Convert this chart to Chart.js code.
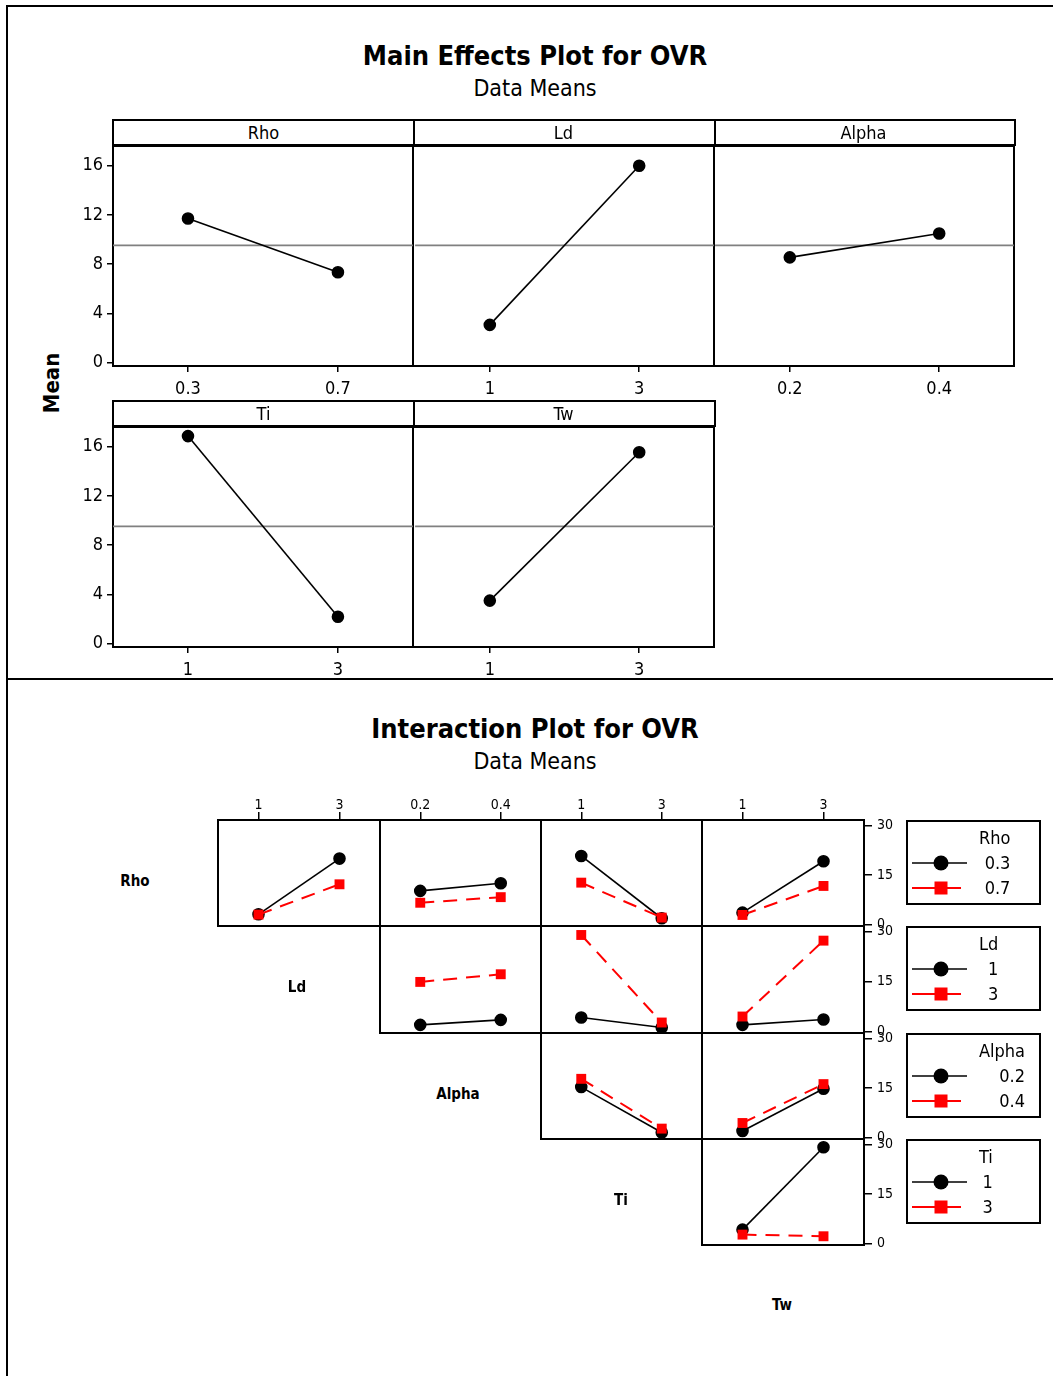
<!DOCTYPE html>
<html>
<head>
<meta charset="utf-8">
<title>Main Effects and Interaction Plots for OVR</title>
<script src="https://cdn.jsdelivr.net/npm/chart.js@4.4.1/dist/chart.umd.min.js"></script>
<style>
  html, body { margin: 0; padding: 0; background: #fff; }
  body { position: relative; width: 1053px; height: 1376px; overflow: hidden;
         font-family: "DejaVu Sans Condensed", "DejaVu Sans", sans-serif; color: #000; }
  canvas { position: absolute; }
  .txt { position: absolute; white-space: nowrap; }
  .box { position: absolute; border: 2px solid #000; box-sizing: border-box; }
  .legend-col { position: absolute; text-align: right; font-size: 18px; }
  .legend-col div { height: 25px; line-height: 25px; }
</style>
</head>
<body>
<script>
// ---- factor levels ----
const factorNames = ['Rho', 'Ld', 'Alpha', 'Ti', 'Tw'];
const rhoLevels = ['0.3', '0.7'];
const ldLevels = ['1', '3'];
const alphaLevels = ['0.2', '0.4'];
const tiLevels = ['1', '3'];
const twLevels = ['1', '3'];

// ---- main effect means of OVR ----
const rhoMeans = [11.72, 7.35];
const ldMeans = [3.07, 16.0];
const alphaMeans = [8.56, 10.5];
const tiMeans = [16.87, 2.19];
const twMeans = [3.5, 15.56];
const grandMean = 9.53;

// ---- tick values ----
const meanTicks = [0, 4, 8, 12, 16];
const interactionTicks = [0, 15, 30];

// ---- interaction means: [first level of row factor, second level], each over the column factor levels ----
const rhoByLd = [[3.1, 20.0], [3.0, 12.2]];
const rhoByAlpha = [[10.2, 12.5], [6.6, 8.3]];
const rhoByTi = [[20.8, 1.9], [12.7, 2.1]];
const rhoByTw = [[3.6, 19.2], [2.9, 11.7]];
const ldByAlpha = [[2.0, 3.5], [14.9, 17.2]];
const ldByTi = [[4.2, 1.2], [29.0, 2.7]];
const ldByTw = [[2.0, 3.6], [4.5, 27.3]];
const alphaByTi = [[15.3, 1.5], [17.8, 2.7]];
const alphaByTw = [[2.0, 14.8], [4.4, 16.2]];
const tiByTw = [[4.2, 29.2], [2.7, 2.2]];

const levelsOf = [rhoLevels, ldLevels, alphaLevels, tiLevels, twLevels];

// ---------------------------------------------------------------
const FONT = '"DejaVu Sans Condensed", "DejaVu Sans", sans-serif';
Chart.defaults.font.family = FONT;
Chart.defaults.color = '#000';

// box around the plotting area (left edge optional where a neighbour already draws it)
const framePlugin = {
  id: 'frame',
  beforeDatasetsDraw(chart, args, opts) {
    const a = chart.chartArea, ctx = chart.ctx;
    const l = Math.round(a.left), r = Math.round(a.right);
    const t = Math.round(a.top), b = Math.round(a.bottom);
    ctx.save();
    ctx.strokeStyle = '#000';
    ctx.lineWidth = opts.width || 2;
    ctx.lineCap = 'square';
    ctx.beginPath();
    ctx.moveTo(l, t); ctx.lineTo(r, t); ctx.lineTo(r, b); ctx.lineTo(l, b);
    if (!opts.skipLeft) ctx.closePath();
    ctx.stroke();
    ctx.restore();
  }
};

// horizontal reference line at the overall mean
const refLinePlugin = {
  id: 'refLine',
  beforeDatasetsDraw(chart, args, opts) {
    if (opts.value == null) return;
    const a = chart.chartArea, ctx = chart.ctx;
    const y = chart.scales.y.getPixelForValue(opts.value);
    ctx.save();
    ctx.strokeStyle = '#808080';
    ctx.lineWidth = 1.6;
    ctx.beginPath();
    ctx.moveTo(a.left, y);
    ctx.lineTo(a.right, y);
    ctx.stroke();
    ctx.restore();
  }
};

function fixedSize(prop, size) {
  return function (s) {
    s[prop] = size;
    s.paddingTop = s.paddingBottom = s.paddingLeft = s.paddingRight = 0;
  };
}

function addText(str, x, y, css, align) {
  const d = document.createElement('div');
  d.className = 'txt';
  d.textContent = str;
  d.style.cssText += css;
  d.style.left = x + 'px';
  d.style.top = (y - 20) + 'px';
  d.style.height = '40px';
  d.style.lineHeight = '40px';
  d.style.transform = align === 'left' ? 'none' : 'translateX(-50%)';
  document.body.appendChild(d);
  return d;
}

function addBox(l, t, w, h) {
  const d = document.createElement('div');
  d.className = 'box';
  d.style.left = l + 'px'; d.style.top = t + 'px';
  d.style.width = w + 'px'; d.style.height = h + 'px';
  document.body.appendChild(d);
  return d;
}

function makeCanvas(l, t, w, h) {
  const c = document.createElement('canvas');
  c.width = w; c.height = h;
  c.style.left = l + 'px'; c.style.top = t + 'px';
  c.style.width = w + 'px'; c.style.height = h + 'px';
  document.body.appendChild(c);
  return c;
}

// ---- page frame ----
const frame = document.createElement('div');
frame.style.cssText = 'position:absolute;left:6px;top:5px;width:1060px;height:1400px;border-top:2px solid #000;border-left:2px solid #000;';
document.body.appendChild(frame);
const divider = document.createElement('div');
divider.style.cssText = 'position:absolute;left:6px;top:678px;width:1060px;height:2px;background:#000;';
document.body.appendChild(divider);

// ================= Main effects =================
addText('Main Effects Plot for OVR', 535, 56, 'font-weight:bold;font-size:27px;');
addText('Data Means', 535, 88, 'font-size:23px;');

const meanLabel = addText('Mean', 52, 383, 'font-weight:bold;font-size:22px;');
meanLabel.style.transform = 'translateX(-50%) rotate(-90deg)';

const mainPanels = [
  { name: 'Rho', levels: rhoLevels, means: rhoMeans, left: 113, top: 145, yAxis: true },
  { name: 'Ld', levels: ldLevels, means: ldMeans, left: 414, top: 145, yAxis: false },
  { name: 'Alpha', levels: alphaLevels, means: alphaMeans, left: 714, top: 145, yAxis: false },
  { name: 'Ti', levels: tiLevels, means: tiMeans, left: 113, top: 426, yAxis: true },
  { name: 'Tw', levels: twLevels, means: twMeans, left: 414, top: 426, yAxis: false }
];

mainPanels.forEach(p => {
  const W = 301, H = 221, pad = 6, yW = p.yAxis ? 52 : 0, xH = 40;
  const hdr = addBox(p.left - 1, p.top - 26, W + 2, 27);
  if (!p.yAxis) hdr.style.borderLeft = 'none';
  const ht = document.createElement('div');
  ht.textContent = p.name;
  ht.style.cssText = 'text-align:center;font-size:18px;line-height:23px;';
  hdr.appendChild(ht);

  const c = makeCanvas(p.left - pad - yW, p.top - pad, W + 2 * pad + yW, H + 2 * pad + xH);
  new Chart(c, {
    type: 'line',
    data: {
      labels: p.levels,
      datasets: [{
        data: p.means,
        borderColor: '#000', borderWidth: 1.6,
        pointStyle: 'circle', pointRadius: 5.5,
        pointBackgroundColor: '#000', pointBorderColor: '#000',
        tension: 0, clip: false
      }]
    },
    options: {
      responsive: false, animation: false,
      layout: { padding: pad },
      plugins: { legend: { display: false }, tooltip: { enabled: false },
                 frame: { width: 2, skipLeft: !p.yAxis }, refLine: { value: grandMean } },
      scales: {
        x: {
          type: 'category', offset: true,
          grid: { drawOnChartArea: false, drawTicks: true, tickLength: 6, color: '#000', lineWidth: 1.5 },
          border: { display: false },
          ticks: { font: { size: 18 }, padding: 7, maxRotation: 0, autoSkip: false },
          afterFit: fixedSize('height', xH)
        },
        y: {
          display: p.yAxis,
          min: -0.27, max: 17.6,
          afterBuildTicks: s => { s.ticks = meanTicks.map(v => ({ value: v })); },
          grid: { drawOnChartArea: false, drawTicks: true, tickLength: 6, color: '#000', lineWidth: 1.5 },
          border: { display: false },
          ticks: { font: { size: 18 }, padding: 4 },
          afterFit: fixedSize('width', yW)
        }
      }
    },
    plugins: [framePlugin, refLinePlugin]
  });
});

// ================= Interaction matrix =================
addText('Interaction Plot for OVR', 535, 729, 'font-weight:bold;font-size:27px;');
addText('Data Means', 535, 761, 'font-size:23px;');

const colEdges = [218, 380, 541, 702, 864];
const rowEdges = [820, 926, 1033, 1139, 1245];

const interactionPanels = [
  { row: 0, col: 1, values: rhoByLd },
  { row: 0, col: 2, values: rhoByAlpha },
  { row: 0, col: 3, values: rhoByTi },
  { row: 0, col: 4, values: rhoByTw },
  { row: 1, col: 2, values: ldByAlpha },
  { row: 1, col: 3, values: ldByTi },
  { row: 1, col: 4, values: ldByTw },
  { row: 2, col: 3, values: alphaByTi },
  { row: 2, col: 4, values: alphaByTw },
  { row: 3, col: 4, values: tiByTw }
];

interactionPanels.forEach(p => {
  const L = colEdges[p.col - 1], R = colEdges[p.col];
  const T = rowEdges[p.row], B = rowEdges[p.row + 1];
  const W = R - L, H = B - T, pad = 10;
  const topH = p.row === 0 ? 24 : 0;
  const rightW = p.col === 4 ? 40 : 0;
  const c = makeCanvas(L - pad, T - pad - topH, W + 2 * pad + rightW, H + 2 * pad + topH);
  const rowLevels = levelsOf[p.row];
  new Chart(c, {
    type: 'line',
    data: {
      labels: levelsOf[p.col],
      datasets: [
        {
          label: rowLevels[0], data: p.values[0], order: 1,
          borderColor: '#000', borderWidth: 1.6,
          pointStyle: 'circle', pointRadius: 5.5,
          pointBackgroundColor: '#000', pointBorderColor: '#000',
          tension: 0, clip: false
        },
        {
          label: rowLevels[1], data: p.values[1], order: 0,
          borderColor: '#ff0000', borderWidth: 2, borderDash: [14, 9],
          pointStyle: 'rect', pointRadius: 7,
          pointBackgroundColor: '#ff0000', pointBorderColor: '#ff0000', pointBorderWidth: 0,
          tension: 0, clip: false
        }
      ]
    },
    options: {
      responsive: false, animation: false,
      layout: { padding: pad },
      plugins: { legend: { display: false }, tooltip: { enabled: false }, frame: { width: 2 } },
      scales: {
        x: {
          type: 'category', offset: true, position: 'top',
          display: p.row === 0,
          grid: { drawOnChartArea: false, drawTicks: true, tickLength: 8, color: '#000', lineWidth: 1.5 },
          border: { display: false },
          ticks: { font: { size: 14 }, padding: -2, maxRotation: 0, autoSkip: false },
          afterFit: fixedSize('height', topH)
        },
        y: {
          position: 'right',
          display: p.col === 4,
          min: -0.45, max: 31.7,
          afterBuildTicks: s => { s.ticks = interactionTicks.map(v => ({ value: v })); },
          grid: { drawOnChartArea: false, drawTicks: true, tickLength: 8, color: '#000', lineWidth: 1.5 },
          border: { display: false },
          ticks: { font: { size: 14 }, padding: 5 },
          afterFit: fixedSize('width', rightW)
        }
      }
    },
    plugins: [framePlugin]
  });
});

// factor names on the diagonal
const diagCenters = [[135, 881], [297, 987], [458, 1094], [621, 1200], [782, 1305]];
factorNames.forEach((n, i) => {
  addText(n, diagCenters[i][0], diagCenters[i][1], 'font-weight:bold;font-size:15px;');
});

// legends for the row factors
function sampleSvg(kind) {
  const ns = 'http://www.w3.org/2000/svg';
  const svg = document.createElementNS(ns, 'svg');
  svg.setAttribute('width', '58'); svg.setAttribute('height', '18');
  svg.style.position = 'absolute';
  const line = document.createElementNS(ns, 'line');
  line.setAttribute('y1', '9'); line.setAttribute('y2', '9');
  line.setAttribute('x1', '0');
  if (kind === 0) {
    line.setAttribute('x2', '55'); line.setAttribute('stroke', '#000'); line.setAttribute('stroke-width', '1.6');
    svg.appendChild(line);
    const m = document.createElementNS(ns, 'circle');
    m.setAttribute('cx', '29'); m.setAttribute('cy', '9'); m.setAttribute('r', '7.5'); m.setAttribute('fill', '#000');
    svg.appendChild(m);
  } else {
    line.setAttribute('x2', '49'); line.setAttribute('stroke', '#ff0000'); line.setAttribute('stroke-width', '2');
    svg.appendChild(line);
    const m = document.createElementNS(ns, 'rect');
    m.setAttribute('x', '22.5'); m.setAttribute('y', '2.5'); m.setAttribute('width', '13'); m.setAttribute('height', '13');
    m.setAttribute('fill', '#ff0000');
    svg.appendChild(m);
  }
  return svg;
}

[0, 1, 2, 3].forEach(i => {
  const top = rowEdges[i];
  addBox(906, top, 135, 85);
  const col = document.createElement('div');
  col.className = 'legend-col';
  col.style.left = '979px';
  col.style.top = (top + 5) + 'px';
  const t = document.createElement('div');
  t.textContent = factorNames[i];
  col.appendChild(t);
  levelsOf[i].forEach(lv => {
    const e = document.createElement('div');
    e.textContent = lv;
    col.appendChild(e);
  });
  document.body.appendChild(col);
  [0, 1].forEach(k => {
    const s = sampleSvg(k);
    s.style.left = '912px';
    s.style.top = (top + 43 + 25 * k - 9) + 'px';
    document.body.appendChild(s);
  });
});
</script>
</body>
</html>
